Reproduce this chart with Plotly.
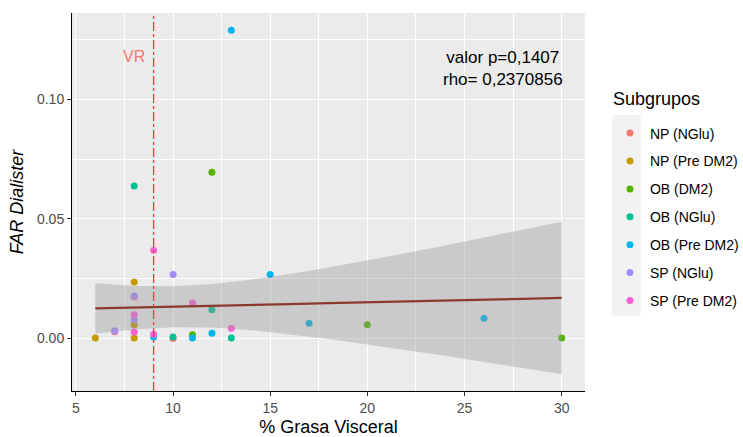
import plotly.graph_objects as go

# ---------------- data ----------------
groups = ["NP (NGlu)", "NP (Pre DM2)", "OB (DM2)", "OB (NGlu)",
          "OB (Pre DM2)", "SP (NGlu)", "SP (Pre DM2)"]
colors = ["#F8766D", "#C49A00", "#53B400", "#00C094",
          "#00B6EB", "#A58AFF", "#FB61D7"]

np_nglu_x = [7, 8, 10]
np_nglu_y = [0.0026, 0.0172, -0.0002]
np_pre_x = [6, 8, 8, 8]
np_pre_y = [0.0, 0.0235, 0.0056, 0.0]
ob_dm2_x = [12, 11, 20, 30]
ob_dm2_y = [0.0695, 0.0014, 0.0056, 0.0]
ob_nglu_x = [8, 12, 10, 13]
ob_nglu_y = [0.0637, 0.0119, 0.0004, 0.0]
ob_pre_x = [13, 15, 9, 11, 12, 17, 26]
ob_pre_y = [0.129, 0.0266, 0.0004, 0.0, 0.0020, 0.0062, 0.0083]
sp_nglu_x = [10, 8, 8, 7]
sp_nglu_y = [0.0266, 0.0176, 0.0077, 0.0031]
sp_pre_x = [9, 11, 8, 8, 9, 13]
sp_pre_y = [0.0368, 0.0147, 0.0098, 0.0025, 0.0016, 0.0041]

group_x = [np_nglu_x, np_pre_x, ob_dm2_x, ob_nglu_x, ob_pre_x, sp_nglu_x, sp_pre_x]
group_y = [np_nglu_y, np_pre_y, ob_dm2_y, ob_nglu_y, ob_pre_y, sp_nglu_y, sp_pre_y]

# linear smooth with confidence band
fit_x = [6, 8, 10, 12, 14, 16, 18, 20, 22, 24, 26, 28, 30]
fit_y = [0.0124, 0.0127, 0.0131, 0.0135, 0.0138, 0.0142, 0.0146,
         0.0149, 0.0153, 0.0157, 0.0160, 0.0164, 0.0168]
fit_lo = [0.0019, 0.0036, 0.0045, 0.0044, 0.0033, 0.0016, -0.0004,
          -0.0027, -0.0050, -0.0074, -0.0100, -0.0125, -0.0151]
fit_hi = [0.0230, 0.0218, 0.0217, 0.0226, 0.0244, 0.0268, 0.0296,
          0.0325, 0.0356, 0.0388, 0.0420, 0.0453, 0.0487]

vr_x = 9
vr_label = "VR"
vr_label_pos = (8.0, 0.118)
stat_text = "valor p=0,1407<br>rho= 0,2370856"
stat_pos = (27.0, 0.1129)
legend_title = "Subgrupos"

x_ticks = [5, 10, 15, 20, 25, 30]
y_ticks = [0.00, 0.05, 0.10]
x_range = [4.8, 31.2]
y_range = [-0.0222, 0.1362]

# ---------------- figure ----------------
fig = go.Figure()

for name, col, xs, ys in zip(groups, colors, group_x, group_y):
    fig.add_trace(go.Scatter(
        x=xs, y=ys, mode="markers", name=name, legendgroup=name,
        marker=dict(color=col, size=7, line=dict(width=0)),
    ))

fig.add_trace(go.Scatter(x=fit_x, y=fit_lo, mode="lines", line=dict(width=0),
                         showlegend=False, hoverinfo="skip"))
fig.add_trace(go.Scatter(x=fit_x, y=fit_hi, mode="lines", line=dict(width=0),
                         fill="tonexty", fillcolor="rgba(153,153,153,0.4)",
                         showlegend=False, hoverinfo="skip"))
fig.add_trace(go.Scatter(x=fit_x, y=fit_y, mode="lines",
                         line=dict(color="#8B3A2E", width=2.2),
                         showlegend=False))

fig.add_vline(x=vr_x, line=dict(color="#F03A3A", width=1.3, dash="dashdot"))

fig.add_annotation(x=vr_label_pos[0], y=vr_label_pos[1], text=vr_label,
                   showarrow=False, font=dict(family="Liberation Sans, Arial",
                                              size=16, color="#F8766D"))
fig.add_annotation(x=stat_pos[0], y=stat_pos[1], text=stat_text,
                   showarrow=False, align="center",
                   font=dict(family="Liberation Sans, Arial", size=17, color="black"))
# legend title as text
fig.add_annotation(xref="paper", yref="paper", x=1.0512, y=0.772,
                   xanchor="left", yanchor="middle", text=legend_title,
                   showarrow=False,
                   font=dict(family="Liberation Sans, Arial", size=18, color="black"))

# grey legend key background
fig.add_shape(type="rect", xref="paper", yref="paper",
              x0=1.0532, x1=1.1086, y0=0.1984, y1=0.7302,
              fillcolor="#F2F2F2", line=dict(width=0), layer="below")

axis_common = dict(
    showline=True, linecolor="black", linewidth=1,
    ticks="outside", ticklen=4, tickcolor="#333333",
    tickfont=dict(family="Liberation Sans, Arial", size=14, color="#4D4D4D"),
    showgrid=True, gridcolor="white", gridwidth=1.1, zeroline=False,
)

fig.update_layout(
    width=743, height=437,
    margin=dict(l=72, r=158, t=13, b=46, autoexpand=False),
    paper_bgcolor="white", plot_bgcolor="#EBEBEB",
    font=dict(family="Liberation Sans, Arial", color="black"),
    xaxis=dict(axis_common, range=x_range, tickvals=x_ticks,
               minor=dict(dtick=2.5, tick0=2.5, showgrid=True, gridcolor="white",
                          gridwidth=0.55, ticks=""),
               title=dict(text="% Grasa Visceral", font=dict(size=18), standoff=6)),
    yaxis=dict(axis_common, range=y_range, tickvals=y_ticks, tickformat=".2f",
               minor=dict(dtick=0.025, tick0=0, showgrid=True, gridcolor="white",
                          gridwidth=0.55, ticks=""),
               title=dict(text="<i>FAR Dialister</i>", font=dict(size=18), standoff=8)),
    legend=dict(x=1.0487, xanchor="left", y=0.7236, yanchor="top",
                font=dict(size=14), tracegroupgap=6.7, itemsizing="trace",
                bgcolor="rgba(0,0,0,0)"),
    showlegend=True,
)

fig.write_html("out.html")
